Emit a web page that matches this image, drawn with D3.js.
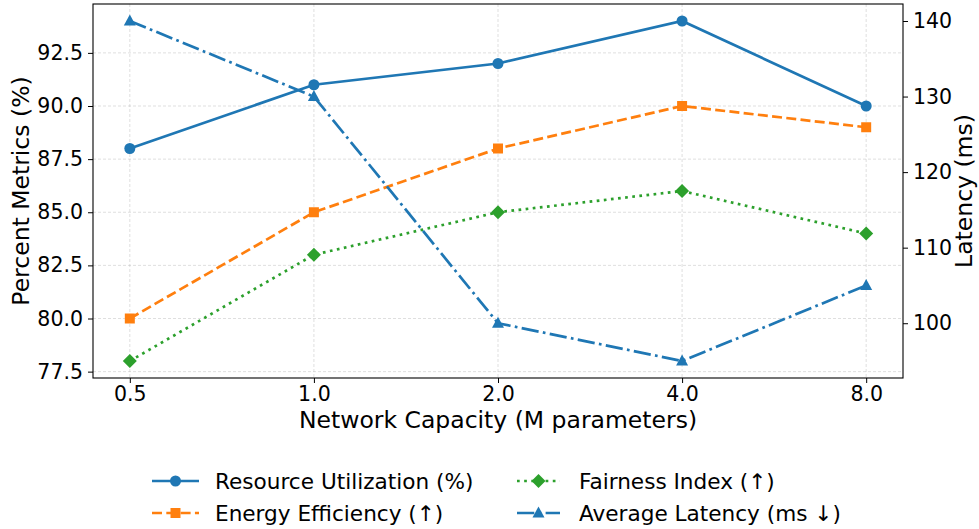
<!DOCTYPE html>
<html><head><meta charset="utf-8">
<script src="https://cdn.jsdelivr.net/npm/d3@7"></script>
<style>body{margin:0;background:#fff}svg{display:block;font-family:"DejaVu Sans",sans-serif}</style>
</head><body><svg id="c" width="979" height="529"></svg>
<script>
const categories = ["0.5","1.0","2.0","4.0","8.0"];
const resourceUtil = [88, 91, 92, 94, 90];
const energyEff = [80, 85, 88, 90, 89];
const fairness = [78, 83, 85, 86, 84];
const latency = [140, 130, 100, 95, 105];
const leftTicks = [77.5, 80.0, 82.5, 85.0, 87.5, 90.0, 92.5];
const rightTicks = [100, 110, 120, 130, 140];

const svg = d3.select("#c");
const L = 93, R = 903, T = 4, B = 378;
const x = d3.scaleLinear().domain([-0.2, 4.2]).range([L, R]);
const yL = d3.scaleLinear().domain([77.2, 94.8]).range([B, T]);
const yR = d3.scaleLinear().domain([92.75, 142.25]).range([B, T]);

// grid
const g = svg.append("g");
g.selectAll("line.v").data(categories).enter().append("line")
  .attr("x1",(d,i)=>x(i)).attr("x2",(d,i)=>x(i)).attr("y1",T).attr("y2",B)
  .attr("stroke","#b0b0b0").attr("stroke-opacity",0.5).attr("stroke-width",0.8).attr("stroke-dasharray","3,2");
g.selectAll("line.h").data(leftTicks).enter().append("line")
  .attr("x1",L).attr("x2",R).attr("y1",d=>yL(d)).attr("y2",d=>yL(d))
  .attr("stroke","#b0b0b0").attr("stroke-opacity",0.5).attr("stroke-width",0.8).attr("stroke-dasharray","3,2");

// axes
const fs = 20.5;
const ax = svg.append("g").attr("transform",`translate(0,${B})`)
  .call(d3.axisBottom(x).tickValues([0,1,2,3,4]).tickFormat(i=>categories[i]).tickSizeOuter(0).tickSize(5).tickPadding(4));
const ayl = svg.append("g").attr("transform",`translate(${L},0)`)
  .call(d3.axisLeft(yL).tickValues(leftTicks).tickFormat(d3.format(".1f")).tickSizeOuter(0).tickSize(5).tickPadding(5));
const ayr = svg.append("g").attr("transform",`translate(${R},0)`)
  .call(d3.axisRight(yR).tickValues(rightTicks).tickFormat(d3.format("d")).tickSizeOuter(0).tickSize(5).tickPadding(5));
[ax,ayl,ayr].forEach(a=>{
  a.select(".domain").remove();
  a.selectAll("text").attr("font-size",fs).attr("font-family","DejaVu Sans").attr("fill","#000");
  a.selectAll("line").attr("stroke","#000").attr("stroke-width",1);
});
ax.selectAll("text").attr("dy","0.7em");
// frame
svg.append("rect").attr("x",L).attr("y",T).attr("width",R-L).attr("height",B-T)
  .attr("fill","none").attr("stroke","#000").attr("stroke-width",1.1);

// labels
const lfs = 23.5;
svg.append("text").attr("x",(L+R)/2).attr("y",428).attr("text-anchor","middle").attr("font-size",lfs).text("Network Capacity (M parameters)");
svg.append("text").attr("transform",`translate(29,${(T+B)/2}) rotate(-90)`).attr("text-anchor","middle").attr("font-size",lfs).text("Percent Metrics (%)");
svg.append("text").attr("transform",`translate(972,${(T+B)/2}) rotate(-90)`).attr("text-anchor","middle").attr("font-size",lfs).text("Latency (ms)");

const lw = 2.7;
const series = [
  {name:"Resource Utilization (%)", vals:resourceUtil, y:yL, color:"#1f77b4", dash:null, marker:"circle"},
  {name:"Energy Efficiency (↑)", vals:energyEff, y:yL, color:"#ff7f0e", dash:[3.7*lw,1.6*lw], marker:"square"},
  {name:"Fairness Index (↑)", vals:fairness, y:yL, color:"#2ca02c", dash:[1*lw,1.65*lw], marker:"diamond"},
  {name:"Average Latency (ms ↓)", vals:latency, y:yR, color:"#1f77b4", dash:[6.4*lw,1.6*lw,1*lw,1.6*lw], marker:"triangle"}
];
function markerPath(type){
  if(type==="circle") return d3.symbol(d3.symbolCircle, 95)();
  if(type==="square") return d3.symbol(d3.symbolSquare, 100)();
  if(type==="diamond") return "M0,-7L7,0L0,7L-7,0Z";
  if(type==="triangle") return "M0,-6.5L6,4.5L-6,4.5Z";
}
const line = d3.line();
series.forEach(s=>{
  const pts = s.vals.map((v,i)=>[x(i), s.y(v)]);
  svg.append("path").attr("d",line(pts)).attr("fill","none").attr("stroke",s.color).attr("stroke-width",lw)
    .attr("stroke-dasharray", s.dash? s.dash.join(","):null);
  svg.selectAll(null).data(pts).enter().append("path").attr("d",markerPath(s.marker))
    .attr("transform",d=>`translate(${d[0]},${d[1]})`).attr("fill",s.color);
});

// legend
const legPos = [[152,481],[152,513],[517,481],[517,513]];
series.forEach((s,i)=>{
  const [lx,ly] = legPos[i];
  const w = i<2?47:43;
  svg.append("line").attr("x1",lx).attr("x2",lx+w).attr("y1",ly).attr("y2",ly)
    .attr("stroke",s.color).attr("stroke-width",lw).attr("stroke-dasharray", s.dash? s.dash.join(","):null);
  svg.append("path").attr("d",markerPath(s.marker)).attr("transform",`translate(${lx+w/2},${ly})`).attr("fill",s.color);
  svg.append("text").attr("x", i<2?215:579).attr("y",ly).attr("dy","0.35em").attr("font-size",21.6).text(s.name);
});
</script></body></html>
